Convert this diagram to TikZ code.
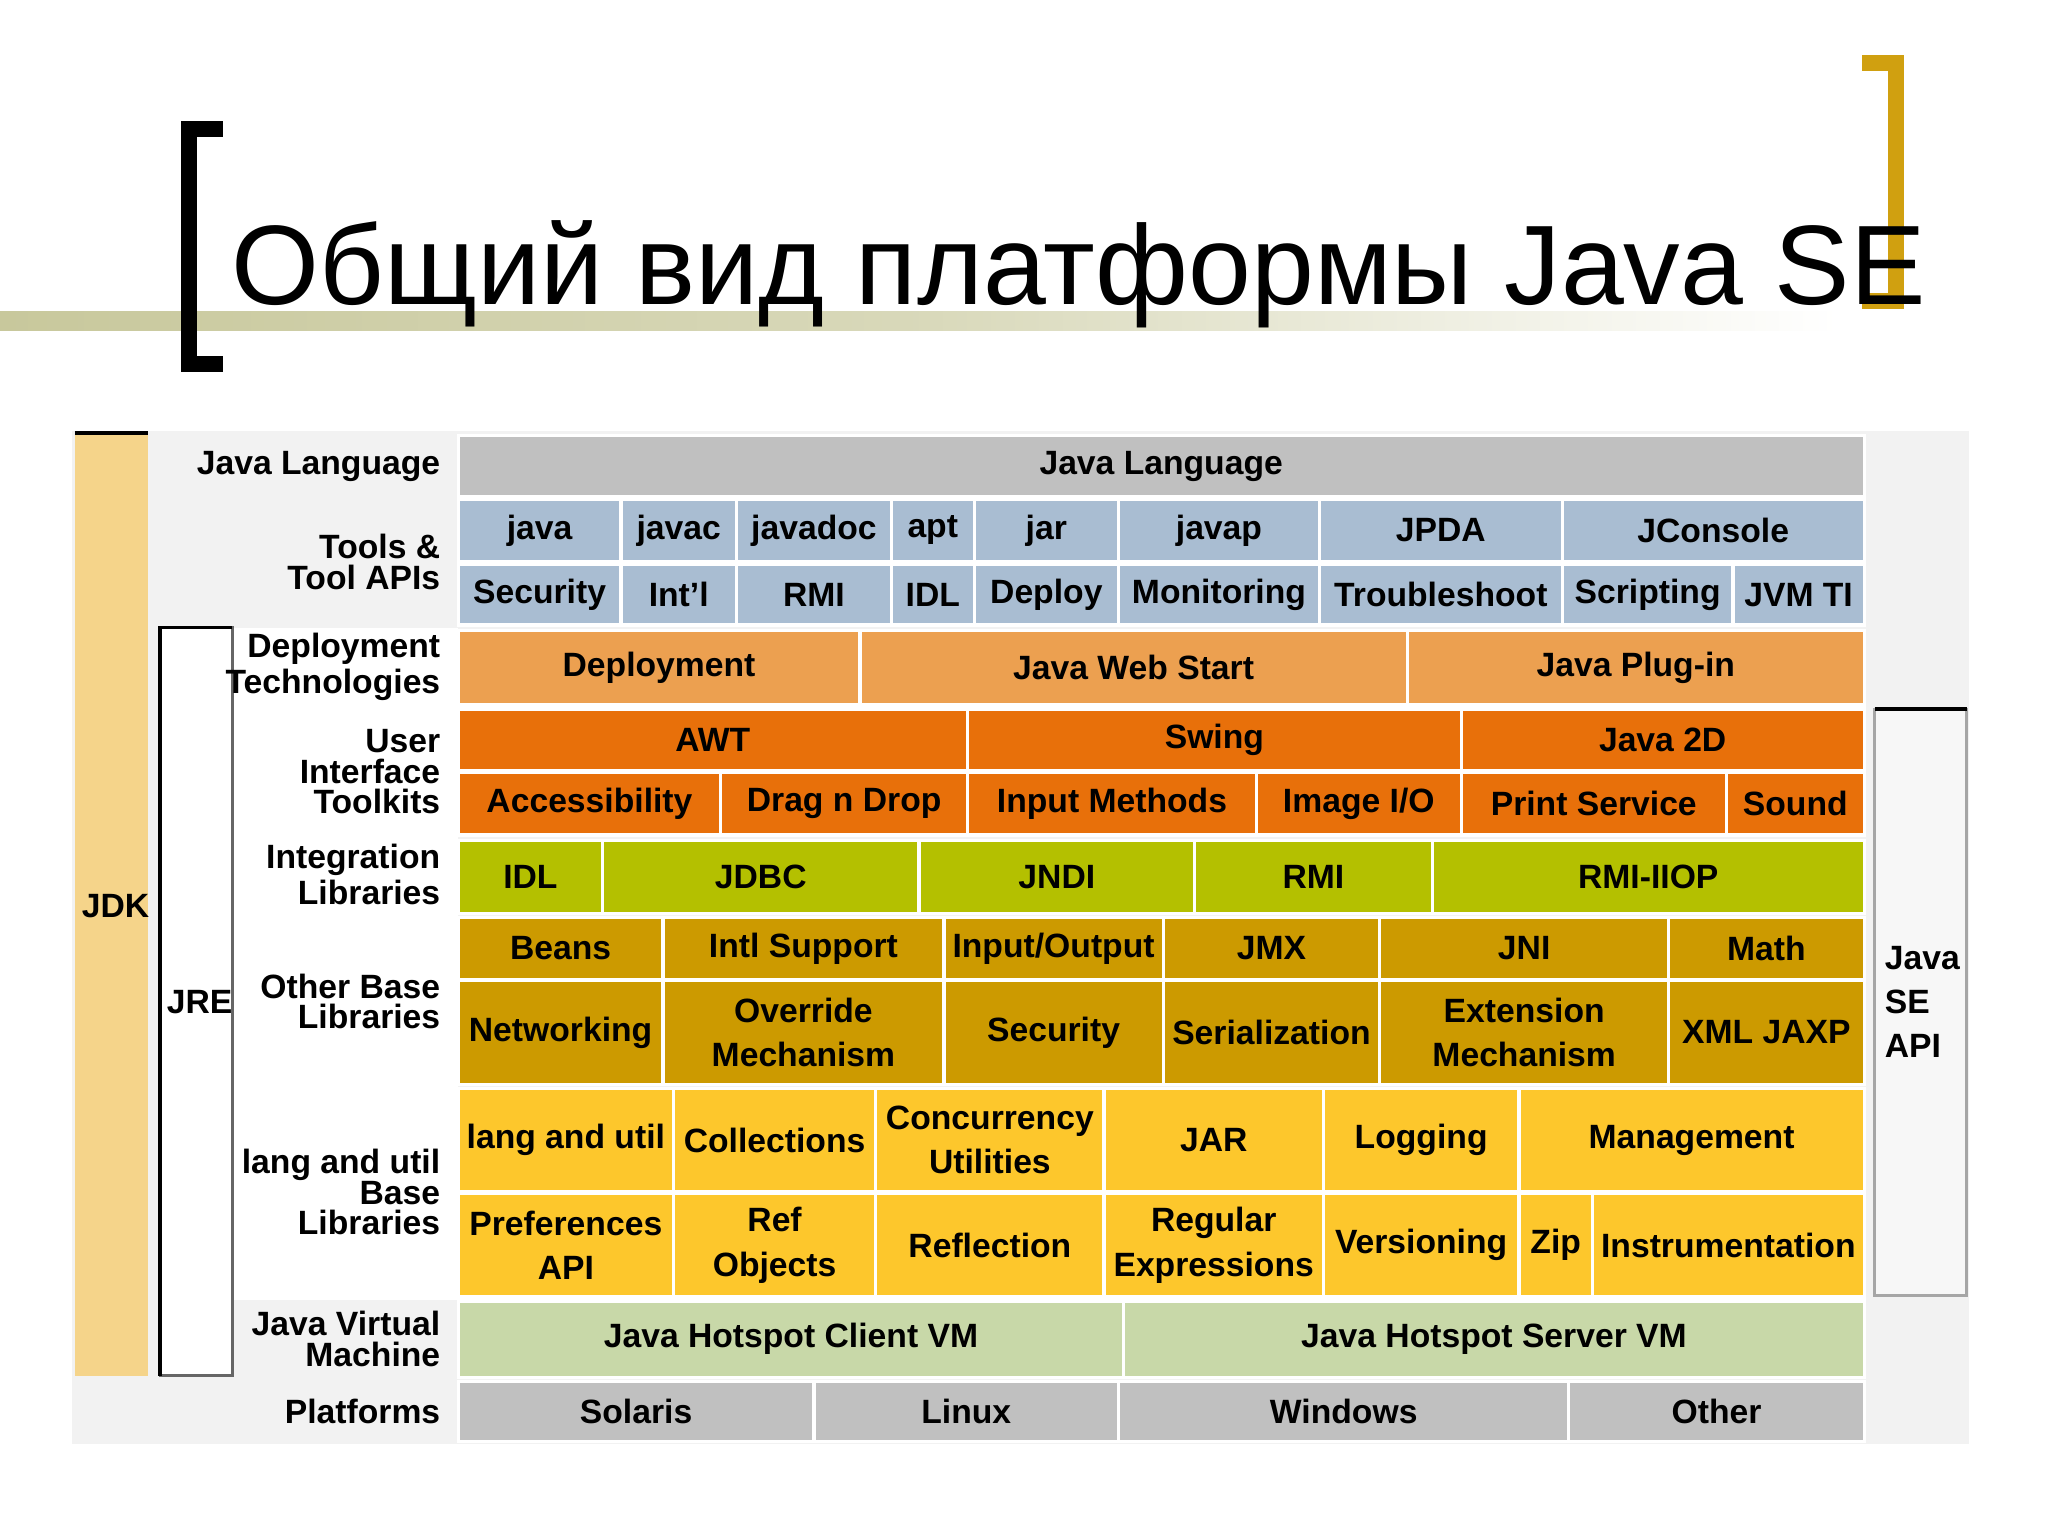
\documentclass[tikz,border=0pt]{standalone}
\usepackage{fontspec}
\setmainfont{Liberation Sans}
\begin{document}
\begin{tikzpicture}[x=0.1mm,y=-0.1mm,
  txt/.style={font=\fontsize{7.3}{7.6}\selectfont\bfseries,align=center,inner sep=0pt},
  lab/.style={font=\fontsize{7.3}{6.6}\selectfont\bfseries,align=right,anchor=east,inner sep=0pt},
  cellbox/.style={draw=white,line width=0.7pt}]
\definecolor{cgray}{HTML}{C0C0C0}
\definecolor{cblue}{HTML}{A9BDD2}
\definecolor{cdep}{HTML}{ECA050}
\definecolor{cui}{HTML}{E8700A}
\definecolor{cint}{HTML}{B4C000}
\definecolor{cbase}{HTML}{CC9A00}
\definecolor{clang}{HTML}{FDC72C}
\definecolor{cjvm}{HTML}{C8D8A8}
\definecolor{cjdk}{HTML}{F5D48A}
\definecolor{cgold}{HTML}{D0A010}
\definecolor{cband}{HTML}{C8C89C}
\useasboundingbox (0,0) rectangle (1560,1170);
% title band and brackets
\shade[left color=cband,right color=white,middle color=cband!70] (0,237) rectangle (1400,252);
\fill[black] (138,92) rectangle (150,283);
\fill[black] (138,92) rectangle (170,104);
\fill[black] (138,271) rectangle (170,283);
\fill[cgold] (1438,42) rectangle (1450,235);
\fill[cgold] (1418,42) rectangle (1450,54);
\fill[cgold] (1418,223) rectangle (1450,235);
\node[anchor=base west,inner sep=0pt,font=\fontsize{24.5}{26}\selectfont] (title) at (176,232) {Общий вид платформы Java SE};
% background
\fill[black!5] (55,328) rectangle (1500,1100);
\fill[white] (178,478) rectangle (349,990);
% JDK / JRE / API
\fill[cjdk] (57,330) rectangle (113,1048);
\draw[line width=0.8pt] (57,330) -- (113,330);
\node[txt] (jdk) at (88,690) {JDK};
\filldraw[fill=white,draw=black!60,line width=0.6pt] (122,478) rectangle (177,1048);
\draw[line width=0.8pt] (122,1048) -- (122,478) -- (177,478);
\node[txt] (jre) at (152,763) {JRE};
\filldraw[fill=black!3,draw=black!35,line width=0.6pt] (1428,540) rectangle (1498,987);
\draw[line width=0.9pt] (1428,540) -- (1498,540);
\node[txt,align=left,anchor=west,font=\fontsize{7.3}{9.5}\selectfont\bfseries] (api) at (1435,763) {Java\\SE\\API};
% rows
\newcommand\cellrow[4]{%
  \foreach \a/\b/\t in {#4}{%
    \filldraw[cellbox,fill=#3] (\a,#1) rectangle (\b,#2);
    \node[txt] at ({(\a+\b)/2},{(#1+#2)/2}) {\t};}}
\cellrow{332}{378}{cgray}{349/1420/Java Language}
\cellrow{380}{428}{cblue}{349/473/java,473/561/javac,561/679/javadoc,679/742/apt,742/852/jar,852/1005/javap,1005/1190/JPDA,1190/1420/JConsole}
\cellrow{430}{476}{cblue}{349/473/Security,473/561/{Int'l},561/679/RMI,679/742/IDL,742/852/Deploy,852/1005/Monitoring,1005/1190/Troubleshoot,1190/1320/Scripting,1320/1420/JVM TI}
\cellrow{480}{537}{cdep}{349/655/Deployment,655/1072/Java Web Start,1072/1420/Java Plug-in}
\cellrow{540}{587}{cui}{349/737/AWT,737/1113/Swing,1113/1420/Java 2D}
\cellrow{588}{636}{cui}{349/549/Accessibility,549/737/Drag n Drop,737/957/Input Methods,957/1113/{Image I/O},1113/1315/Print Service,1315/1420/Sound}
\cellrow{640}{696}{cint}{349/459/IDL,459/700/JDBC,700/910/JNDI,910/1091/RMI,1091/1420/RMI-IIOP}
\cellrow{699}{746}{cbase}{349/505/Beans,505/719/Intl Support,719/886/{Input/Output},886/1051/JMX,1051/1271/JNI,1271/1420/Math}
\cellrow{747}{826}{cbase}{349/505/Networking,505/719/{Override\\[2pt]Mechanism},719/886/Security,886/1051/Serialization,1051/1271/{Extension\\[2pt]Mechanism},1271/1420/XML JAXP}
\cellrow{829}{908}{clang}{349/513/lang and util,513/667/Collections,667/841/{Concurrency\\[2pt]Utilities},841/1008/JAR,1008/1157/Logging,1157/1420/Management}
\cellrow{909}{988}{clang}{349/513/{Preferences\\[2pt]API},513/667/{Ref\\[2pt]Objects},667/841/Reflection,841/1008/{Regular\\[2pt]Expressions},1008/1157/Versioning,1157/1213/Zip,1213/1420/Instrumentation}
\cellrow{991}{1049}{cjvm}{349/856/Java Hotspot Client VM,856/1420/Java Hotspot Server VM}
\cellrow{1052}{1098}{cgray}{349/620/Solaris,620/852/Linux,852/1195/Windows,1195/1420/Other}
% left labels
\node[lab] (l1) at (336,355) {Java Language};
\node[lab] (l2) at (336,428) {Tools \&\\Tool APIs};
\node[lab] (l3) at (336,508) {Deployment\\Technologies};
\node[lab] (l4) at (336,588) {User\\Interface\\Toolkits};
\node[lab] (l5) at (336,666) {Integration\\Libraries};
\node[lab] (l6) at (336,763) {Other Base\\Libraries};
\node[lab] (l7) at (336,908) {lang and util\\Base\\Libraries};
\node[lab] (l8) at (336,1020) {Java Virtual\\Machine};
\node[lab] (l9) at (336,1075) {Platforms};
\end{tikzpicture}
\end{document}
